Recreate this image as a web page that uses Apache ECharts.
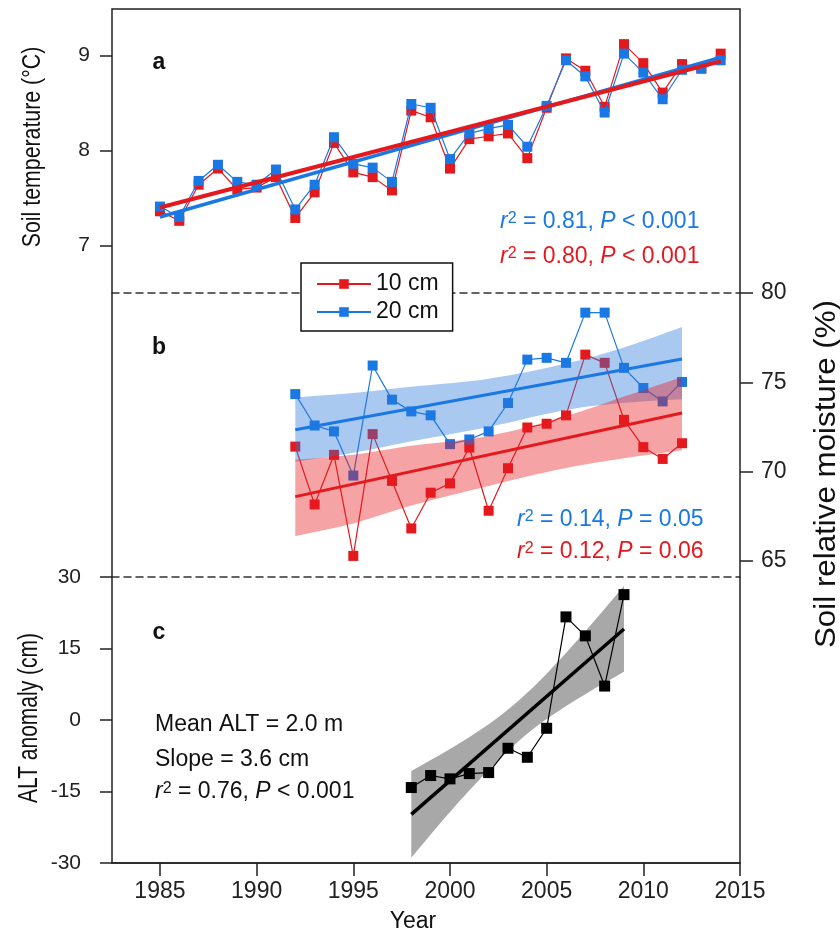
<!DOCTYPE html>
<html>
<head>
<meta charset="utf-8">
<script src="https://cdn.jsdelivr.net/npm/echarts@6/dist/echarts.min.js"></script>
<style>
html, body { margin: 0; padding: 0; background: #fff; }
#chart { width: 840px; height: 936px; }
</style>
</head>
<body>
<div id="chart"></div>
<script>
// panel a: soil temperature
var yearsA = [1985, 1986, 1987, 1988, 1989, 1990, 1991, 1992, 1993, 1994, 1995, 1996, 1997, 1998, 1999,
              2000, 2001, 2002, 2003, 2004, 2005, 2006, 2007, 2008, 2009, 2010, 2011, 2012, 2013, 2014];
var temp10 = [7.36, 7.26, 7.64, 7.81, 7.59, 7.61, 7.72, 7.29, 7.56, 8.08, 7.77, 7.72, 7.58, 8.42, 8.35,
              7.81, 8.12, 8.15, 8.18, 7.92, 8.45, 8.97, 8.84, 8.46, 9.12, 8.92, 8.61, 8.91, 8.87, 9.02];
var temp20 = [7.41, 7.30, 7.68, 7.85, 7.67, 7.64, 7.80, 7.38, 7.64, 8.14, 7.86, 7.82, 7.67, 8.49, 8.45,
              7.91, 8.18, 8.23, 8.27, 8.04, 8.47, 8.95, 8.78, 8.40, 9.02, 8.82, 8.54, 8.85, 8.86, 8.95];
var trendYearsA = [1985, 2014];
var trendTemp10 = [7.40, 8.94];
var trendTemp20 = [7.30, 8.98];

// panel b: soil relative moisture
var yearsB = [1992, 1993, 1994, 1995, 1996, 1997, 1998, 1999, 2000, 2001, 2002,
              2003, 2004, 2005, 2006, 2007, 2008, 2009, 2010, 2011, 2012];
var moist10 = [71.40, 68.16, 70.94, 65.28, 72.10, 69.48, 66.82, 68.82, 69.34, 71.35, 67.81,
               70.19, 72.47, 72.68, 73.15, 76.55, 76.09, 72.90, 71.37, 70.71, 71.59];
var moist20 = [74.34, 72.58, 72.25, 69.78, 75.94, 74.03, 73.37, 73.15, 71.54, 71.80, 72.25,
               73.84, 76.27, 76.37, 76.09, 78.90, 78.90, 75.81, 74.68, 73.93, 75.02];
var trendYearsB = [1992, 2012];
var trendMoist10 = [68.60, 73.28];
var trendMoist20 = [72.34, 76.30];
var bandYearsB = [1992, 1995, 1998, 2002, 2006, 2009, 2012];
var band10Upper = [70.66, 70.95, 71.45, 72.00, 73.10, 74.20, 75.30];
var band10Lower = [66.40, 67.10, 68.10, 69.20, 70.20, 70.75, 71.20];
var band20Upper = [74.15, 74.40, 74.75, 75.20, 76.05, 76.95, 78.10];
var band20Lower = [70.55, 71.05, 71.70, 72.50, 73.45, 73.85, 74.05];

// panel c: ALT anomaly
var yearsC = [1998, 1999, 2000, 2001, 2002, 2003, 2004, 2005, 2006, 2007, 2008, 2009];
var altAnom = [-14.17, -11.65, -12.35, -11.24, -11.03, -5.93, -7.82, -1.74, 21.63, 17.65, 7.12, 26.3];
var trendYearsC = [1998, 2009];
var trendAlt = [-19.8, 19.1];
var bandYearsC = [1998, 2000, 2002, 2003.5, 2005, 2007, 2009];
var bandCUpper = [-10.7, -6.1, -0.9, 3.9, 9.7, 18.6, 28.1];
var bandCLower = [-28.9, -19.3, -10.5, -4.6, 0.2, 5.4, 10.1];

// ticks
var yearTicks = [1985, 1990, 1995, 2000, 2005, 2010, 2015];
var tempTicks = [7, 8, 9];
var moistTicks = [65, 70, 75, 80];

var RED = '#e4191e';
var BLUE = '#1a78e4';
var FONT = '"Liberation Sans", Arial, sans-serif';
var AX = '#222';

function pairs(xs, ys) {
    var out = [];
    for (var i = 0; i < xs.length; i++) out.push([xs[i], ys[i]]);
    return out;
}

function pointSeries(name, xi, xs, ys, color, size, z) {
    return {
        name: name, type: 'line', xAxisIndex: xi, yAxisIndex: xi,
        data: pairs(xs, ys), symbol: 'rect', symbolSize: size,
        itemStyle: { color: color }, lineStyle: { color: color, width: 1.2 },
        z: z
    };
}
function trendSeries(name, xi, xs, ys, color, width, z) {
    return {
        name: name, type: 'line', xAxisIndex: xi, yAxisIndex: xi,
        data: pairs(xs, ys), symbol: 'none',
        lineStyle: { color: color, width: width }, z: z
    };
}
// confidence band drawn as one smoothed polygon; corners doubled so the ends stay straight
function bandSeries(name, xi, xs, up, low, fill, z) {
    var data = [];
    for (var i = 0; i < xs.length; i++) data.push([xs[i], low[i], up[i]]);
    return {
        name: name, type: 'custom', xAxisIndex: xi, yAxisIndex: xi, z: z, silent: true,
        data: data,
        encode: { x: 0, y: [1, 2] },
        renderItem: function (params, api) {
            if (params.dataIndex !== 0) return null;
            var top = [], bot = [];
            for (var k = 0; k < data.length; k++) {
                top.push(api.coord([data[k][0], data[k][2]]));
                bot.unshift(api.coord([data[k][0], data[k][1]]));
            }
            top.unshift(top[0].slice());
            top.push(top[top.length - 1].slice());
            bot.unshift(bot[0].slice());
            bot.push(bot[bot.length - 1].slice());
            return {
                type: 'polygon',
                shape: { points: top.concat(bot), smooth: 0.35 },
                style: { fill: fill }
            };
        }
    };
}

function statText(x, y, color, r2, p) {
    return {
        type: 'text', x: x, y: y, z: 100,
        style: {
            text: '{i|r}{s|2} = ' + r2 + ', {i|P} ' + p,
            fill: color, fontSize: 23, fontFamily: FONT,
            align: 'left', verticalAlign: 'middle',
            rich: {
                i: { fontStyle: 'italic', fill: color, fontSize: 23, fontFamily: FONT },
                s: { fontSize: 16, fill: color, fontFamily: FONT, verticalAlign: 'top', lineHeight: 14 }
            }
        }
    };
}
function plainText(x, y, str, opts) {
    opts = opts || {};
    return {
        type: 'text', x: x, y: y, rotation: opts.rot || 0, z: 100,
        scaleX: opts.sx || 1,
        style: {
            text: str, fill: opts.color || '#111', fontSize: opts.size || 22,
            fontFamily: FONT, fontWeight: opts.weight || 'normal',
            align: opts.align || 'left', verticalAlign: 'middle'
        }
    };
}

var hiddenX = function (gi) {
    return {
        gridIndex: gi, type: 'value', min: 1982.52, max: 2015,
        axisLine: { show: true, onZero: false, lineStyle: { color: '#333', width: 1.5, type: [7, 5] } },
        axisTick: { show: false }, axisLabel: { show: false }, splitLine: { show: false }
    };
};

var series = [];
series.push(pointSeries('10 cm', 0, yearsA, temp10, RED, 10, 2));
series.push(pointSeries('20 cm', 0, yearsA, temp20, BLUE, 10, 3));
series.push(trendSeries('fit20a', 0, trendYearsA, trendTemp20, BLUE, 3.5, 5));
series.push(trendSeries('fit10a', 0, trendYearsA, trendTemp10, RED, 4, 6));

series.push(pointSeries('10 cm', 1, yearsB, moist10, RED, 10, 2));
series.push(pointSeries('20 cm', 1, yearsB, moist20, BLUE, 10, 3));
series.push(bandSeries('band20', 1, bandYearsB, band20Upper, band20Lower, 'rgba(40,120,220,0.40)', 4));
series.push(bandSeries('band10', 1, bandYearsB, band10Upper, band10Lower, 'rgba(232,25,30,0.40)', 4));
series.push(trendSeries('fit20b', 1, trendYearsB, trendMoist20, BLUE, 3, 6));
series.push(trendSeries('fit10b', 1, trendYearsB, trendMoist10, RED, 3, 6));

series.push(bandSeries('bandC', 2, bandYearsC, bandCUpper, bandCLower, 'rgba(0,0,0,0.34)', 1));
series.push(pointSeries('ALT', 2, yearsC, altAnom, '#000', 11, 3));
series.push(trendSeries('fitC', 2, trendYearsC, trendAlt, '#000', 3.5, 4));

var chart = echarts.init(document.getElementById('chart'));
chart.setOption({
    animation: false,
    backgroundColor: '#fff',
    grid: [
        { left: 112, width: 628, top: 9, height: 284, outerBoundsMode: 'none' },
        { left: 112, width: 628, top: 293, height: 284, outerBoundsMode: 'none' },
        { left: 112, width: 628, top: 577, height: 286, outerBoundsMode: 'none' },
        { left: 112, width: 628, top: 9, height: 854, show: true, borderColor: AX, borderWidth: 1.5,
          backgroundColor: 'transparent', outerBoundsMode: 'none', z: 10 }
    ],
    xAxis: [
        hiddenX(0),
        hiddenX(1),
        {
            gridIndex: 2, type: 'value', min: 1982.52, max: 2015,
            axisLine: { show: true, onZero: false, lineStyle: { color: AX, width: 1.5 } },
            axisTick: { show: true, length: 13, customValues: yearTicks, lineStyle: { color: AX, width: 1.5 } },
            axisLabel: { customValues: yearTicks, fontSize: 23, margin: 17, color: '#222', fontFamily: FONT,
                         formatter: function (v) { return String(v); } },
            splitLine: { show: false }
        },
        { gridIndex: 3, type: 'value', show: false, min: 0, max: 1 }
    ],
    yAxis: [
        {
            gridIndex: 0, type: 'value', min: 6.5, max: 9.49,
            axisLine: { show: false },
            axisTick: { show: true, length: 12, customValues: tempTicks, lineStyle: { color: AX, width: 1.5 } },
            axisLabel: { customValues: tempTicks, fontSize: 21, margin: 22, color: '#222', fontFamily: FONT },
            splitLine: { show: false }
        },
        {
            gridIndex: 1, type: 'value', position: 'right', min: 64.1, max: 80,
            axisLine: { show: false },
            axisTick: { show: true, length: 13, customValues: moistTicks, lineStyle: { color: AX, width: 1.5 } },
            axisLabel: { customValues: moistTicks, fontSize: 23, margin: 21, color: '#222', fontFamily: FONT },
            splitLine: { show: false }
        },
        {
            gridIndex: 2, type: 'value', min: -30, max: 30, interval: 15,
            axisLine: { show: false },
            axisTick: { show: true, length: 12, lineStyle: { color: AX, width: 1.5 } },
            axisLabel: { fontSize: 21, margin: 31, color: '#222', fontFamily: FONT },
            splitLine: { show: false }
        },
        { gridIndex: 3, type: 'value', show: false, min: 0, max: 1 }
    ],
    legend: {
        data: ['10 cm', '20 cm'],
        orient: 'vertical', left: 301, top: 263,
        padding: [9, 14, 7, 15], itemGap: 4,
        itemWidth: 54, itemHeight: 12,
        backgroundColor: '#fff', borderColor: '#111', borderWidth: 1.5, borderRadius: 0,
        textStyle: { fontSize: 23, fontFamily: FONT, color: '#111', lineHeight: 24 },
        z: 50
    },
    series: series,
    graphic: [
        plainText(159, 63, 'a', { weight: 'bold', size: 23, align: 'center' }),
        plainText(159, 348, 'b', { weight: 'bold', size: 23, align: 'center' }),
        plainText(159, 633, 'c', { weight: 'bold', size: 23, align: 'center' }),
        statText(500, 222, BLUE, '0.81', '< 0.001'),
        statText(500, 257, RED, '0.80', '< 0.001'),
        statText(517, 520, BLUE, '0.14', '= 0.05'),
        statText(517, 552, RED, '0.12', '= 0.06'),
        plainText(155, 725, 'Mean ALT = 2.0 m', { size: 23 }),
        plainText(155, 760, 'Slope = 3.6 cm', { size: 23 }),
        statText(155, 792, '#111', '0.76', '< 0.001'),
        plainText(33, 147, 'Soil temperature (\u00B0C)', { rot: Math.PI / 2, size: 26, sx: 0.82, align: 'center' }),
        plainText(29, 718, 'ALT anomaly (cm)', { rot: Math.PI / 2, size: 28, sx: 0.75, align: 'center' }),
        plainText(827, 474, 'Soil relative moisture (%)', { rot: Math.PI / 2, size: 29, sx: 1.08, align: 'center' }),
        plainText(413, 922, 'Year', { size: 23, align: 'center' })
    ]
});
</script>
</body>
</html>
